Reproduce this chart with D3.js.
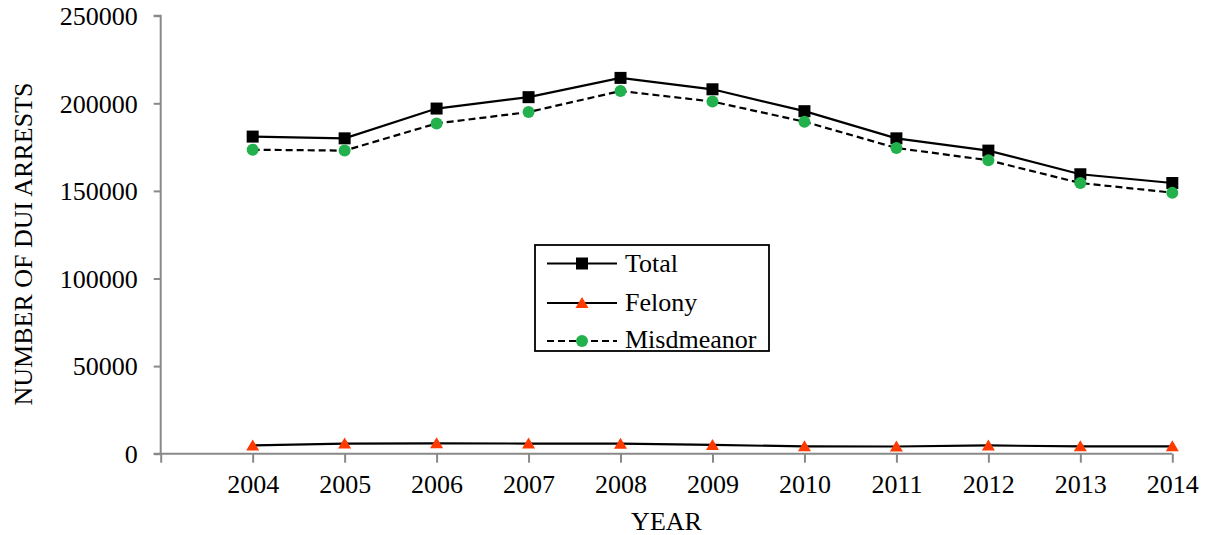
<!DOCTYPE html>
<html><head><meta charset="utf-8">
<script src="https://cdn.jsdelivr.net/npm/d3@7"></script>
<style>
html,body{margin:0;padding:0;background:#fff;}
text{font-family:"Liberation Serif","Times New Roman",serif;fill:#000;}
</style></head>
<body><svg id="c" width="1206" height="535"></svg>
<script>
const years = ["2004","2005","2006","2007","2008","2009","2010","2011","2012","2013","2014"];
const total = [181000,180000,197000,203500,214500,208000,195500,180000,173000,159500,154500];
const felony = [4700,5800,5900,5800,5700,5000,4200,4100,4700,4200,4200];
const misdemeanor = [173500,173000,188500,195000,207000,201000,189500,174500,167500,154500,149000];
const yTicks = [0,50000,100000,150000,200000,250000];
const seriesNames = ["Total","Felony","Misdmeanor"];

const svg = d3.select("#c");
const L = 160.7, R = 1172.3, T = 15.7, B = 453.7;
const axisCol = "#898989";
const FS = 26;

// index 0 is an empty slot before 2004
const x = d3.scaleLinear().domain([0, years.length]).range([L, R]);
const y = d3.scaleLinear().domain([0, 250000]).range([B, T]);

// y axis
const ya = svg.append("g").attr("transform", `translate(${L},0)`)
  .call(d3.axisLeft(y).tickValues(yTicks).tickSize(7).tickPadding(16).tickFormat(d3.format("d")));
ya.select(".domain").attr("stroke", axisCol).attr("stroke-width", 2).attr("d", `M-7,${T}H0V${B}`);
ya.selectAll(".tick line").attr("stroke", axisCol).attr("stroke-width", 2);
ya.selectAll(".tick text").style("font-size", FS + "px").style("font-family", '"Liberation Serif",serif').attr("fill", "#000").attr("dy", "0.34em");

// x axis
const xa = svg.append("g").attr("transform", `translate(0,${B})`)
  .call(d3.axisBottom(x).tickValues(d3.range(0, years.length + 1)).tickSize(9).tickPadding(12)
    .tickFormat(i => i === 0 ? "" : years[i - 1]));
xa.select(".domain").attr("stroke", axisCol).attr("stroke-width", 2).attr("d", `M${L-7},0H${R}`);
xa.selectAll(".tick line").attr("stroke", axisCol).attr("stroke-width", 2);
xa.selectAll(".tick text").style("font-size", FS + "px").style("font-family", '"Liberation Serif",serif').attr("fill", "#000").attr("dy", "0.71em");

// titles
svg.append("text").attr("x", (L + R) / 2).attr("y", 530).attr("text-anchor", "middle")
  .style("font-size", FS + "px").text("YEAR");
svg.append("text").attr("transform", `translate(32,244) rotate(-90)`).attr("text-anchor", "middle")
  .style("font-size", FS + "px").text("NUMBER OF DUI ARRESTS");

const line = d3.line().x((d, i) => x(i + 1)).y(d => y(d));
const green = "#22b14c", red = "#ff3a00";

function drawMarker(g, type, cx, cy) {
  if (type === "square") g.append("rect").attr("x", cx - 6).attr("y", cy - 6).attr("width", 12).attr("height", 12).attr("fill", "#000");
  else if (type === "circle") g.append("circle").attr("cx", cx).attr("cy", cy).attr("r", 6).attr("fill", green);
  else g.append("path").attr("d", `M${cx},${cy-6}L${cx+6.5},${cy+5}L${cx-6.5},${cy+5}Z`).attr("fill", red);
}

const series = [
  {data: total, dash: null, marker: "square"},
  {data: felony, dash: null, marker: "tri"},
  {data: misdemeanor, dash: "7,4", marker: "circle"}
];
const plot = svg.append("g");
series.forEach(s => {
  plot.append("path").datum(s.data).attr("d", line).attr("fill", "none").attr("stroke", "#000")
    .attr("stroke-width", 2.2).attr("stroke-dasharray", s.dash);
});
series.forEach(s => {
  const g = plot.append("g");
  s.data.forEach((d, i) => drawMarker(g, s.marker, x(i + 1), y(d)));
});

// legend
const lg = svg.append("g");
lg.append("rect").attr("x", 535).attr("y", 245).attr("width", 234).attr("height", 106)
  .attr("fill", "#fff").attr("stroke", "#000").attr("stroke-width", 1.8);
const legY = [263.5, 303, 341];
const legBase = [271.5, 310.5, 348];
series.forEach((s, i) => {
  lg.append("line").attr("x1", 547).attr("x2", 617).attr("y1", legY[i]).attr("y2", legY[i])
    .attr("stroke", "#000").attr("stroke-width", 2.2).attr("stroke-dasharray", s.dash);
  drawMarker(lg, s.marker, 582, legY[i]);
  lg.append("text").attr("x", 625).attr("y", legBase[i]).style("font-size", FS + "px").text(seriesNames[i]);
});
</script></body></html>
